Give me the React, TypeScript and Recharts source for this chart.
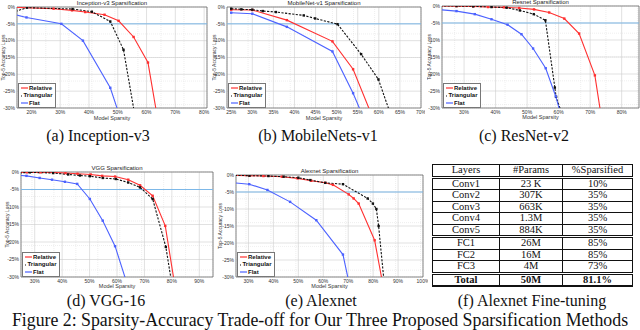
import React from 'react';
import { LineChart, Line, XAxis, YAxis, CartesianGrid, ReferenceLine, ReferenceArea, Legend } from 'recharts';

type Pt = [number, number];

// y axis is shared by all five plots
const yTicks = [0, -5, -10, -15, -20, -25, -30];

// Inception-v3
const inceptionRelative: Pt[] = [[14.5, -0.1], [27.7, -0.5], [34.1, -1.0], [38.7, -1.5], [45.4, -2.3], [50.3, -4.1], [55.5, -8.9], [60.5, -16.5], [63.8, -33]];
const inceptionTriangular: Pt[] = [[14.5, -1.3], [18.5, -0.2], [34.3, -0.6], [41, -1.4], [47.4, -4.3], [52, -12.7], [56.1, -33]];
const inceptionFlat: Pt[] = [[14.5, -2.3], [18.3, -3.1], [30.4, -5], [37.9, -10], [47.4, -24], [50.9, -33]];
const inceptionTicks = [20, 30, 40, 50, 60, 70, 80];

// MobileNet-v1
const mobileRelative: Pt[] = [[25, -0.8], [30, -0.9], [38.2, -3.9], [49, -10.2], [53.9, -18.5], [58.6, -33]];
const mobileTriangular: Pt[] = [[25, -0.5], [27.4, -0.7], [30, -0.8], [32.5, -1.2], [35.6, -1.5], [42.2, -2.5], [44.9, -3.4], [50.2, -5.1], [55.8, -14], [59.9, -21.5], [63.1, -33]];
const mobileFlat: Pt[] = [[25, -1.7], [30, -2], [38.2, -5.9], [49, -13.2], [53.9, -25.6], [56.4, -33]];
const mobileTicks = [25, 30, 35, 40, 45, 50, 55, 60, 65, 70];

// ResNet-v2
const resnetRelative: Pt[] = [[22.5, 0], [27.6, -0.05], [32.9, -0.1], [37.6, -0.3], [42.6, -0.4], [47.5, -0.6], [52.2, -1], [57, -1.9], [61.8, -3.7], [66.5, -8.1], [71.5, -20.4], [73.6, -33]];
const resnetTriangular: Pt[] = [[22.5, 0], [27.6, 0], [32.9, -0.1], [38.7, -0.3], [43.5, -0.5], [47.7, -1.3], [52.1, -2.4], [55.8, -4.2], [58.8, -24], [59.2, -26.7], [61.5, -33]];
const resnetFlat: Pt[] = [[22.5, -1.1], [27.6, -1.5], [33.4, -2.4], [38.7, -3.9], [43.8, -5.5], [48.2, -8.3], [51.9, -12.5], [55.9, -18.3], [59.1, -26.6], [61, -33]];
const resnetTicks = [30, 40, 50, 60, 70, 80];

// VGG-16
const vggRelative: Pt[] = [[24.5, -0.1], [27.2, -0.1], [32.1, -0.1], [36.7, -0.1], [41.2, -0.3], [45.6, -0.5], [50.4, -0.7], [54.6, -1.1], [59.3, -1.3], [64.1, -2.2], [68.4, -3.8], [73, -6.8], [77.6, -15.4], [81.2, -33]];
const vggTriangular: Pt[] = [[24.5, -0.3], [28.2, -0.1], [36.7, -0.3], [42.2, -0.7], [46.5, -1], [50.1, -1.2], [54.8, -1.7], [59.6, -2], [64.1, -3], [68.4, -4.4], [73, -7.7], [77.8, -21.4], [80.2, -33]];
const vggFlat: Pt[] = [[24.5, -1], [27, -1.1], [31.8, -1.7], [36.3, -2.2], [41, -2.8], [45.5, -3.4], [50.1, -7.7], [54.8, -13.9], [59.3, -21.2], [64.1, -33]];
const vggTicks = [30, 40, 50, 60, 70, 80, 90];

// Alexnet
const alexRelative: Pt[] = [[24.5, -0.1], [30.4, -0.2], [36, -0.3], [43.4, -0.5], [49.7, -1], [55.2, -1.7], [60.8, -2.3], [63.9, -2.9], [70.2, -5.7], [72.2, -6.9], [74.2, -8.4], [80.6, -19.2], [84.1, -33]];
const alexTriangular: Pt[] = [[24.5, -0.1], [30.4, -0.2], [38, -0.3], [44.1, -0.5], [50, -0.8], [54.8, -1.5], [60.8, -2.3], [67.9, -2.7], [77.8, -6.9], [79.9, -8.4], [81.3, -10], [82.2, -15], [84.6, -33]];
const alexFlat: Pt[] = [[24.5, -2.3], [30.3, -2.7], [37.6, -4.4], [46.7, -7.9], [57.2, -13.3], [67.9, -23.4], [70.7, -33]];
const alexTicks = [30, 40, 50, 60, 70, 80, 90, 100];

// Alexnet fine-tuning table
const layerNames = ['Conv1', 'Conv2', 'Conv3', 'Conv4', 'Conv5', 'FC1', 'FC2', 'FC3'];
const layerParams = ['23 K', '307K', '663K', '1.3M', '884K', '26M', '16M', '4M'];
const layerSparsified = ['10%', '35%', '35%', '35%', '35%', '85%', '85%', '73%'];

const SANS = '"Liberation Sans", Arial, sans-serif';
const SERIF = '"Liberation Serif", "Times New Roman", serif';

const SERIES = [
  { key: 'relative', name: 'Relative', color: '#ff3030', dash: undefined as string | undefined },
  { key: 'triangular', name: 'Triangular', color: '#111111', dash: '2.2 1.4' },
  { key: 'flat', name: 'Flat', color: '#4c62ff', dash: undefined as string | undefined },
];

const steps = (a: number, b: number, s: number) => {
  const out: number[] = [];
  for (let v = a; v <= b + 1e-9; v += s) out.push(Math.round(v * 100) / 100);
  return out;
};

const toPts = (arr: Pt[]) => arr.map(([x, y]) => ({ x, y }));

function LegendBox() {
  return (
    <div style={{ width: 38, height: 25, boxSizing: 'border-box', background: '#fff', border: '0.7px solid #777', padding: '1px 2px', fontFamily: SANS, fontWeight: 'bold', fontSize: 6, lineHeight: '7.5px', color: '#111' }}>
      {SERIES.map((s) => (
        <div key={s.key} style={{ display: 'flex', alignItems: 'center', whiteSpace: 'nowrap' }}>
          <svg width={7} height={4} style={{ marginRight: 1.5 }}>
            <line x1={0} y1={2} x2={7} y2={2} stroke={s.color} strokeWidth={1.2} strokeDasharray={s.dash} />
          </svg>
          {s.name}
        </div>
      ))}
    </div>
  );
}

interface PlotSpec {
  title: string;
  region: { x: number; y: number; w: number; h: number };
  plot: { l: number; t: number; r: number; b: number };
  xDomain: [number, number];
  xTicks: number[];
  minorStep: number;
  ylabelX: number;
  xlabelOffset: number;
  lines: Record<string, Pt[]>;
}

function SparsityPlot({ spec }: { spec: PlotSpec }) {
  const { region, plot, xDomain, xTicks, title, lines } = spec;
  // axes take the space left of and below the plot box
  const yAxisW = plot.l - region.x;
  const xAxisH = region.y + region.h - plot.b;
  const margin = { left: 0, top: plot.t - region.y, right: region.x + region.w - plot.r, bottom: 0 };
  const plotH = plot.b - plot.t;
  const xMinor = steps(Math.ceil(xDomain[0]), Math.floor(xDomain[1]), spec.minorStep);
  const yMinor = steps(-30, 0, 1);
  const tickStyle = { fontSize: 5, fill: '#333', fontFamily: SANS };

  const makeDot = (color: string) => (p: any) => {
    const { cx, cy, payload, index } = p;
    if (payload.x < xDomain[0] || payload.y < -30) return <g key={`d-${index}`} />;
    return <rect key={`d-${index}`} x={cx - 1.2} y={cy - 1.2} width={2.4} height={2.4} fill={color} />;
  };

  return (
    <div style={{ position: 'absolute', left: region.x, top: region.y, width: region.w, height: region.h }}>
      <LineChart width={region.w} height={region.h} margin={margin}>
        <XAxis xAxisId="minor" type="number" dataKey="x" domain={xDomain} ticks={xMinor} hide allowDataOverflow />
        <YAxis yAxisId="minor" type="number" domain={[-30, 0]} ticks={yMinor} hide allowDataOverflow />
        <CartesianGrid xAxisId="minor" yAxisId="minor" stroke="#dedede" strokeWidth={0.5} strokeDasharray="1 1" />
        <CartesianGrid stroke="#cccccc" strokeWidth={0.6} />
        <XAxis
          type="number"
          dataKey="x"
          domain={xDomain}
          ticks={xTicks}
          interval={0}
          height={xAxisH}
          tickSize={0}
          tickMargin={2}
          axisLine={false}
          tickLine={false}
          allowDataOverflow
          tick={tickStyle}
          tickFormatter={(v) => `${v}%`}
          label={{ value: 'Model Sparsity', position: 'insideTop', offset: spec.xlabelOffset, style: { fontSize: 5.5, fill: '#333', fontFamily: SANS } }}
        />
        <YAxis
          type="number"
          domain={[-30, 0]}
          ticks={yTicks}
          interval={0}
          width={yAxisW}
          tickSize={0}
          tickMargin={2}
          axisLine={false}
          tickLine={false}
          allowDataOverflow
          tick={tickStyle}
          tickFormatter={(v) => `${v}%`}
          label={{ value: 'Top-5 Accuracy Loss', angle: -90, position: 'insideLeft', offset: spec.ylabelX, style: { textAnchor: 'middle', fontSize: 5, fill: '#333', fontFamily: SANS } }}
        />
        <ReferenceLine y={-5} stroke="#7db8e8" strokeWidth={1} />
        {SERIES.map((s) => (
          <Line
            key={s.key}
            data={toPts(lines[s.key])}
            dataKey="y"
            name={s.name}
            type="linear"
            stroke={s.color}
            strokeWidth={1.1}
            strokeDasharray={s.dash}
            dot={makeDot(s.color)}
            activeDot={false}
            isAnimationActive={false}
          />
        ))}
        <ReferenceArea x1={xDomain[0]} x2={xDomain[1]} y1={-30} y2={0} fill="none" stroke="#555" strokeWidth={0.6} ifOverflow="visible" />
        <Legend
          layout="vertical"
          align="center"
          verticalAlign="middle"
          wrapperStyle={{ left: yAxisW + 0.5, top: margin.top + plotH - 25.5, width: 'auto', height: 'auto' }}
          content={() => <LegendBox />}
        />
      </LineChart>
      <div style={{ position: 'absolute', left: yAxisW, width: plot.r - plot.l, top: margin.top - 7, textAlign: 'center', fontFamily: SANS, fontSize: 6, lineHeight: '6px', color: '#222' }}>
        {title}
      </div>
    </div>
  );
}

const plots: PlotSpec[] = [
  {
    title: 'Inception-v3 Sparsification',
    region: { x: 0, y: 0, w: 214, h: 124 },
    plot: { l: 17, t: 7, r: 207, b: 108 },
    xDomain: [15, 81],
    xTicks: inceptionTicks,
    minorStep: 2,
    ylabelX: 3,
    xlabelOffset: 8.5,
    lines: { relative: inceptionRelative, triangular: inceptionTriangular, flat: inceptionFlat },
  },
  {
    title: 'MobileNet-v1 Sparsification',
    region: { x: 212, y: 0, w: 213, h: 124 },
    plot: { l: 227, t: 7, r: 421, b: 108 },
    xDomain: [24, 70],
    xTicks: mobileTicks,
    minorStep: 1,
    ylabelX: 2,
    xlabelOffset: 8.5,
    lines: { relative: mobileRelative, triangular: mobileTriangular, flat: mobileFlat },
  },
  {
    title: 'Resnet Sparsification',
    region: { x: 427, y: 0, w: 213, h: 124 },
    plot: { l: 442, t: 6, r: 639, b: 108 },
    xDomain: [23, 85.5],
    xTicks: resnetTicks,
    minorStep: 2,
    ylabelX: 2,
    xlabelOffset: 7.5,
    lines: { relative: resnetRelative, triangular: resnetTriangular, flat: resnetFlat },
  },
  {
    title: 'VGG Sparsification',
    region: { x: 0, y: 160, w: 215, h: 130 },
    plot: { l: 21, t: 172, r: 213, b: 277 },
    xDomain: [25, 95],
    xTicks: vggTicks,
    minorStep: 2,
    ylabelX: 7,
    xlabelOffset: 7.5,
    lines: { relative: vggRelative, triangular: vggTriangular, flat: vggFlat },
  },
  {
    title: 'Alexnet Sparsification',
    region: { x: 216, y: 160, w: 212, h: 130 },
    plot: { l: 236, t: 175, r: 423, b: 277 },
    xDomain: [25, 100],
    xTicks: alexTicks,
    minorStep: 2,
    ylabelX: 4,
    xlabelOffset: 7.5,
    lines: { relative: alexRelative, triangular: alexTriangular, flat: alexFlat },
  },
];

function Caption({ text, cx, cy, size = 16, width = 240 }: { text: string; cx: number; cy: number; size?: number; width?: number }) {
  return (
    <div style={{ position: 'absolute', left: cx - width / 2, width, top: cy - size * 0.5, textAlign: 'center', fontFamily: SERIF, fontSize: size, lineHeight: `${size}px`, color: '#111', whiteSpace: 'nowrap' }}>
      {text}
    </div>
  );
}

function FineTuneTable() {
  const cell: React.CSSProperties = { border: '1px solid #111', padding: 0, textAlign: 'center', height: 10.5, lineHeight: '10.5px' };
  const dbl = '3px double #111';
  return (
    <table style={{ position: 'absolute', left: 432, top: 164, width: 201, borderCollapse: 'collapse', fontFamily: SERIF, fontSize: 10.5, color: '#111' }}>
      <tbody>
        <tr>
          <td style={{ ...cell, width: 66, borderBottom: dbl }}>Layers</td>
          <td style={{ ...cell, width: 62, borderBottom: dbl }}>#Params</td>
          <td style={{ ...cell, borderBottom: dbl }}>%Sparsified</td>
        </tr>
        {layerNames.map((name, i) => {
          const sep = i === 4 || i === 7 ? dbl : '1px solid #111';
          return (
            <tr key={name}>
              <td style={{ ...cell, borderBottom: sep }}>{name}</td>
              <td style={{ ...cell, borderBottom: sep }}>{layerParams[i]}</td>
              <td style={{ ...cell, borderBottom: sep }}>{layerSparsified[i]}</td>
            </tr>
          );
        })}
        <tr style={{ fontWeight: 'bold' }}>
          <td style={{ ...cell, borderBottom: '2px solid #111' }}>Total</td>
          <td style={{ ...cell, borderBottom: '2px solid #111' }}>50M</td>
          <td style={{ ...cell, borderBottom: '2px solid #111' }}>81.1%</td>
        </tr>
      </tbody>
    </table>
  );
}

export default function App() {
  return (
    <div style={{ position: 'absolute', left: 0, top: 0, width: 640, height: 330, overflow: 'hidden', background: '#fff' }}>
      {plots.map((p) => (
        <SparsityPlot key={p.title} spec={p} />
      ))}
      <FineTuneTable />
      <Caption text="(a) Inception-v3" cx={98} cy={136} />
      <Caption text="(b) MobileNets-v1" cx={318} cy={136} />
      <Caption text="(c) ResNet-v2" cx={524} cy={136} />
      <Caption text="(d) VGG-16" cx={106} cy={301} />
      <Caption text="(e) Alexnet" cx={321} cy={301} />
      <Caption text="(f) Alexnet Fine-tuning" cx={532} cy={301} />
      <Caption text="Figure 2: Sparsity-Accuracy Trade-off for Our Three Proposed Sparsification Methods" cx={320} cy={321} size={17.8} width={680} />
    </div>
  );
}
